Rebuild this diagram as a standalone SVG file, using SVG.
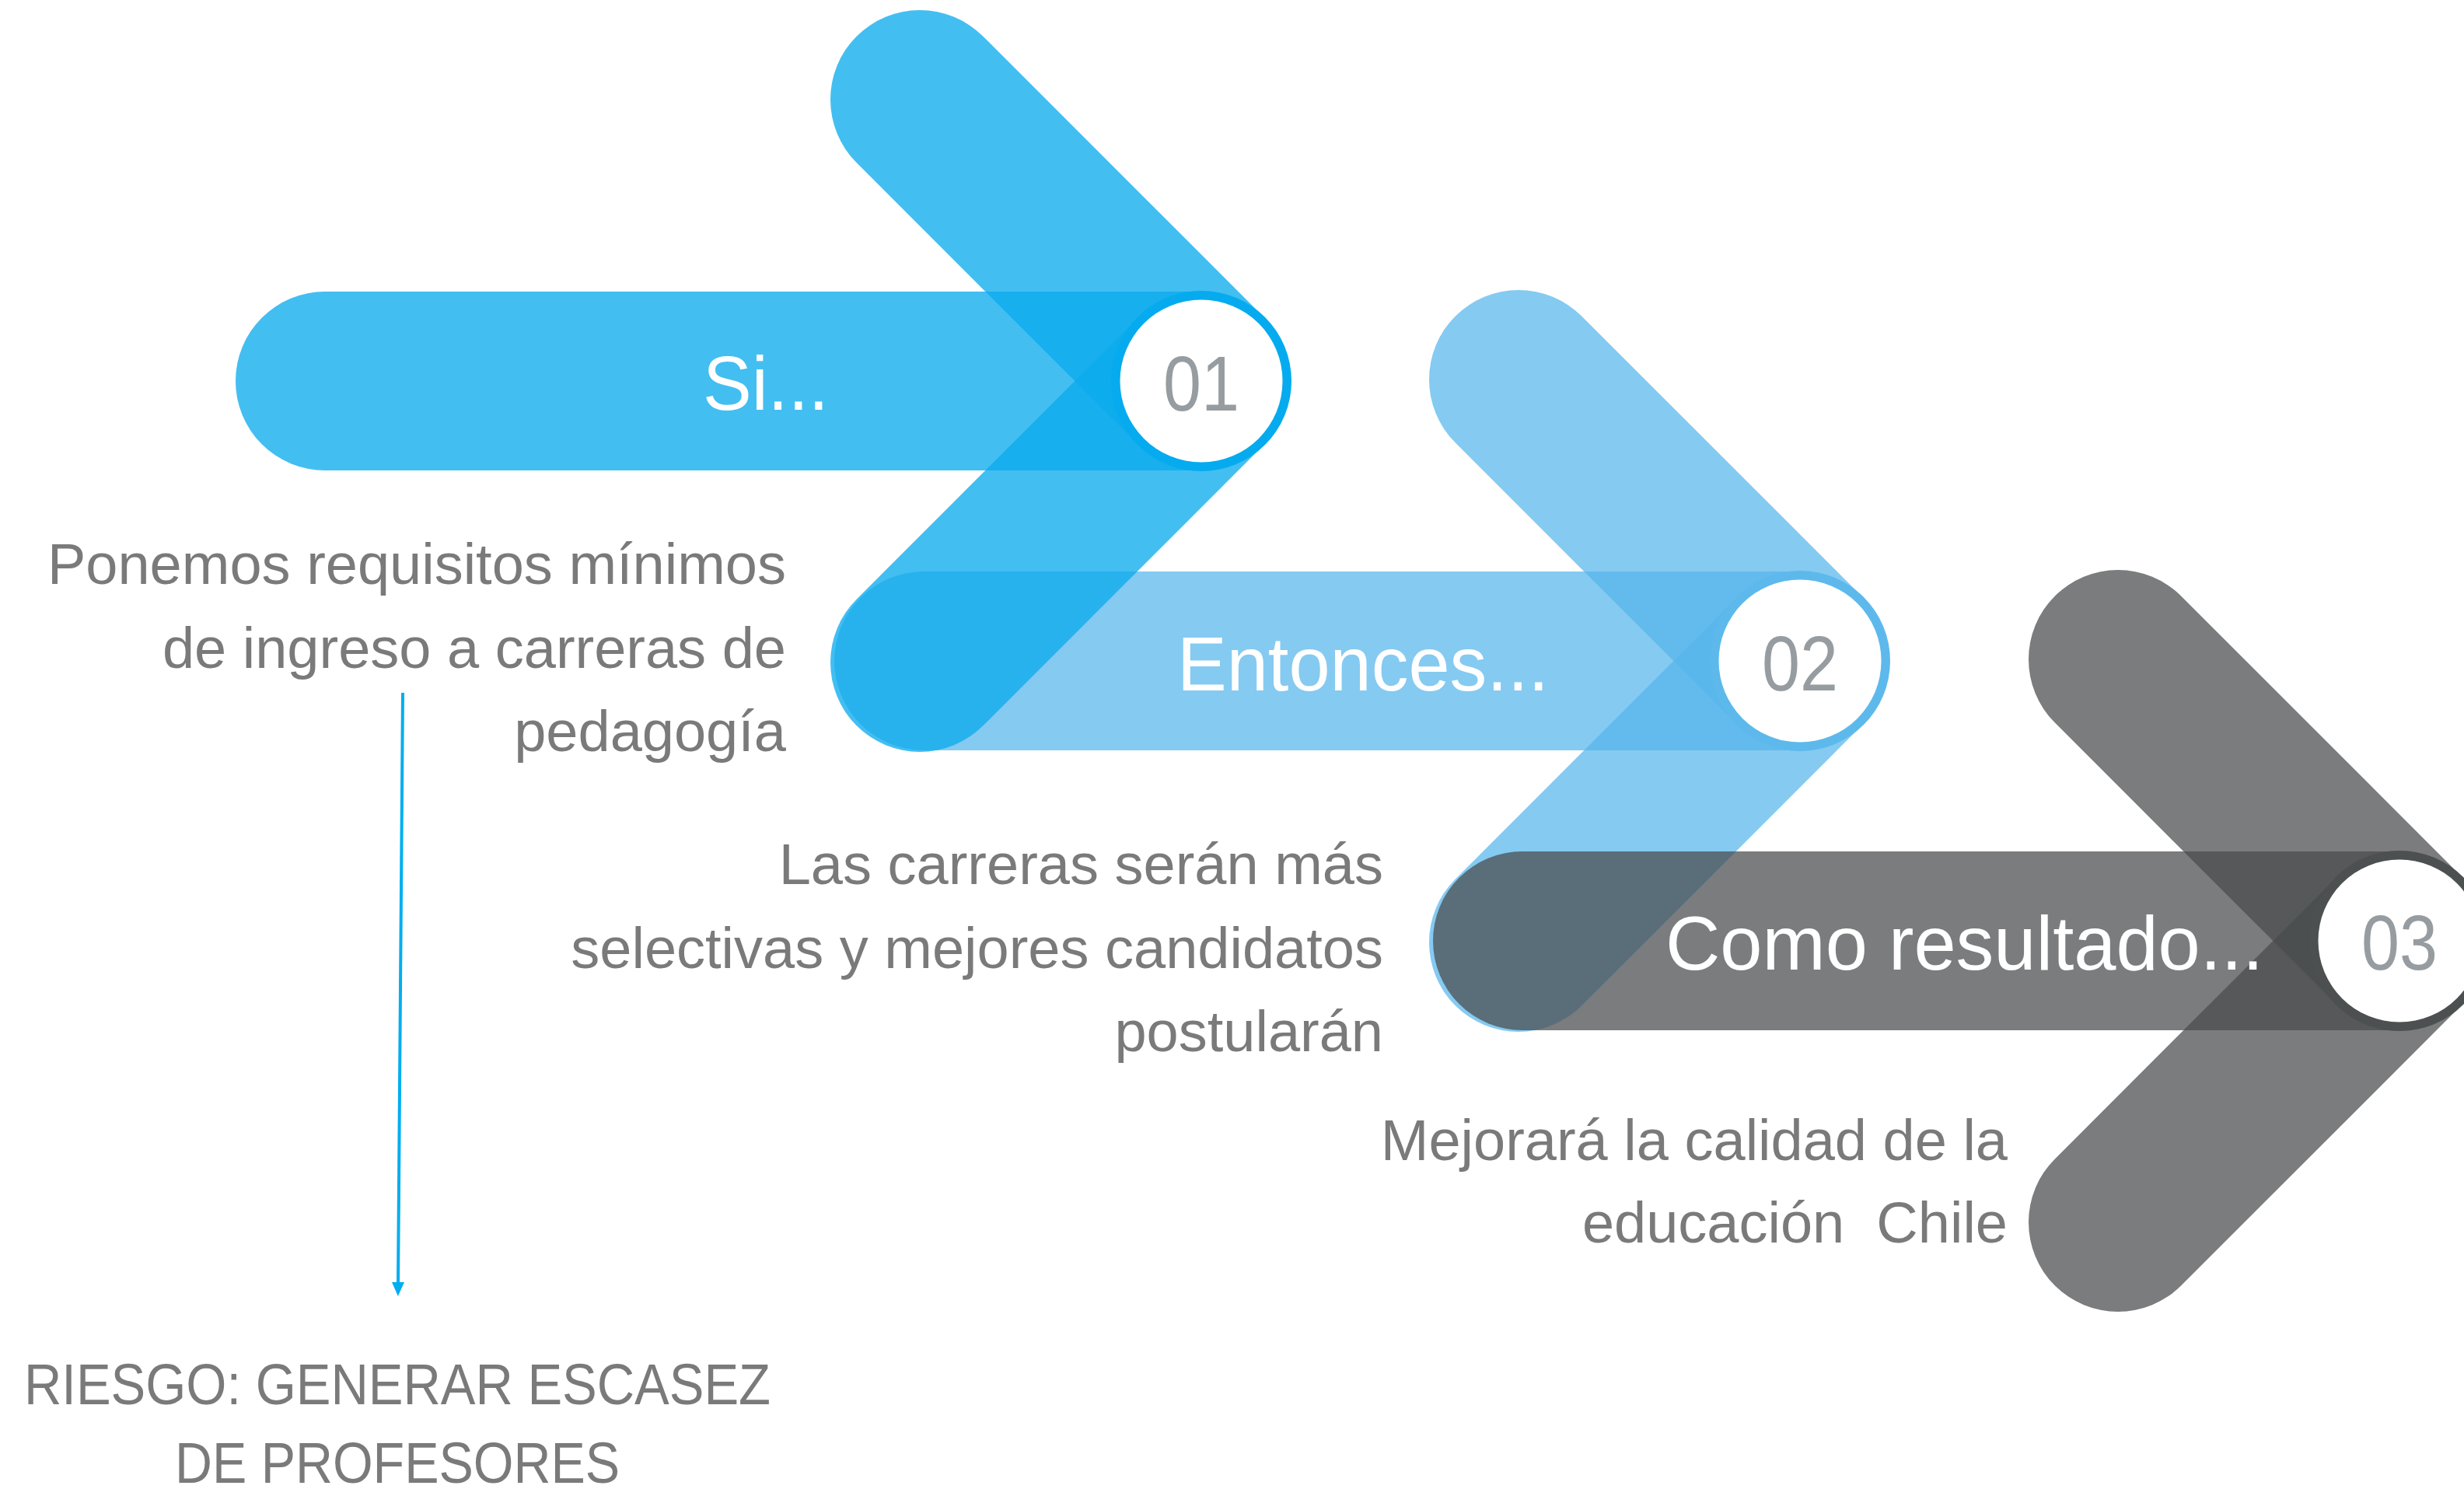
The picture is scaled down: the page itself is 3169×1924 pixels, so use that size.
<svg xmlns="http://www.w3.org/2000/svg" width="3169" height="1924" viewBox="0 0 3169 1924">
  <style>
    .s1 { stroke: #0BABED; stroke-opacity: 0.77; stroke-width: 230; stroke-linecap: round; fill: none; }
    .s2 { stroke: #56B6EC; stroke-opacity: 0.72; stroke-width: 230; stroke-linecap: round; fill: none; }
    .s3 { stroke: #484C4D; stroke-opacity: 0.73; stroke-width: 230; stroke-linecap: round; fill: none; }
    .hole { fill: #FFFFFF; }
    .num { font-family: "Liberation Sans", Arial, sans-serif; font-size: 100px; fill: #969CA0; text-anchor: middle; }
    .lbl { font-family: "Liberation Sans", Arial, sans-serif; font-size: 98px; fill: #FFFFFF; }
    .desc { font-family: "Liberation Sans", Arial, sans-serif; font-size: 74px; fill: #7A7A7A; text-anchor: end; }
    .risk { font-family: "Liberation Sans", Arial, sans-serif; font-size: 74px; fill: #7A7A7A; text-anchor: middle; }
  </style>
  <defs>
    <marker id="ah" markerUnits="userSpaceOnUse" markerWidth="20" markerHeight="18" refX="1" refY="8" orient="auto">
      <path d="M0,0 L18,8 L0,16 Z" fill="#00AEEF"/>
    </marker>
  </defs>
  <rect width="3169" height="1924" fill="#FFFFFF"/>

  <g id="stage-2">
    <line class="s2" x1="1953" y1="488" x2="2315" y2="850"/>
    <line class="s2" x1="1953" y1="1212" x2="2315" y2="850"/>
    <line class="s2" x1="1188" y1="850" x2="2315" y2="850"/>
    <circle cx="2315" cy="850" r="116" fill="#5DB9EC"/>
    <circle class="hole" cx="2315" cy="850" r="104.5"/>
    <text class="num" x="2315" y="888" textLength="98" lengthAdjust="spacingAndGlyphs">02</text>
    <text class="lbl" x="1514" y="888" textLength="478" lengthAdjust="spacingAndGlyphs">Entonces...</text>
  </g>

  <g id="stage-1">
    <line class="s1" x1="1183" y1="128" x2="1545" y2="490"/>
    <line class="s1" x1="1183" y1="852" x2="1545" y2="490"/>
    <line class="s1" x1="418" y1="490" x2="1545" y2="490"/>
    <circle cx="1545" cy="490" r="116" fill="#05ABEE"/>
    <circle class="hole" cx="1545" cy="490" r="104.5"/>
    <text class="num" x="1545" y="528" textLength="98" lengthAdjust="spacingAndGlyphs">01</text>
    <text class="lbl" x="904" y="527" textLength="162" lengthAdjust="spacingAndGlyphs">Si...</text>
  </g>

  <g id="stage-3">
    <line class="s3" x1="2724" y1="848" x2="3086" y2="1210"/>
    <line class="s3" x1="2724" y1="1572" x2="3086" y2="1210"/>
    <line class="s3" x1="1958" y1="1210" x2="3086" y2="1210"/>
    <circle cx="3086" cy="1210" r="116" fill="#4C5051"/>
    <circle class="hole" cx="3086" cy="1210" r="104.5"/>
    <text class="num" x="3086" y="1247" textLength="98" lengthAdjust="spacingAndGlyphs">03</text>
    <text class="lbl" x="2142" y="1247" textLength="769" lengthAdjust="spacingAndGlyphs">Como resultado...</text>
  </g>

  <g id="desc-1">
    <text class="desc" x="1011" y="751">Ponemos requisitos mínimos</text>
    <text class="desc" x="1011" y="859">de ingreso a carreras de</text>
    <text class="desc" x="1011" y="966">pedagogía</text>
  </g>

  <g id="desc-2">
    <text class="desc" x="1779" y="1137">Las carreras serán más</text>
    <text class="desc" x="1779" y="1245">selectivas y mejores candidatos</text>
    <text class="desc" x="1779" y="1352">postularán</text>
  </g>

  <g id="desc-3">
    <text class="desc" x="2582" y="1492">Mejorará la calidad de la</text>
    <text class="desc" x="2582" y="1598" style="white-space:pre">educación  Chile</text>
  </g>

  <g id="risk">
    <text class="risk" x="511" y="1806" textLength="960" lengthAdjust="spacingAndGlyphs">RIESGO: GENERAR ESCASEZ</text>
    <text class="risk" x="511" y="1907" textLength="572" lengthAdjust="spacingAndGlyphs">DE PROFESORES</text>
  </g>

  <g id="connectors">
    <line x1="518" y1="891" x2="512" y2="1650" stroke="#00AEEF" stroke-width="4" marker-end="url(#ah)"/>
  </g>
</svg>
